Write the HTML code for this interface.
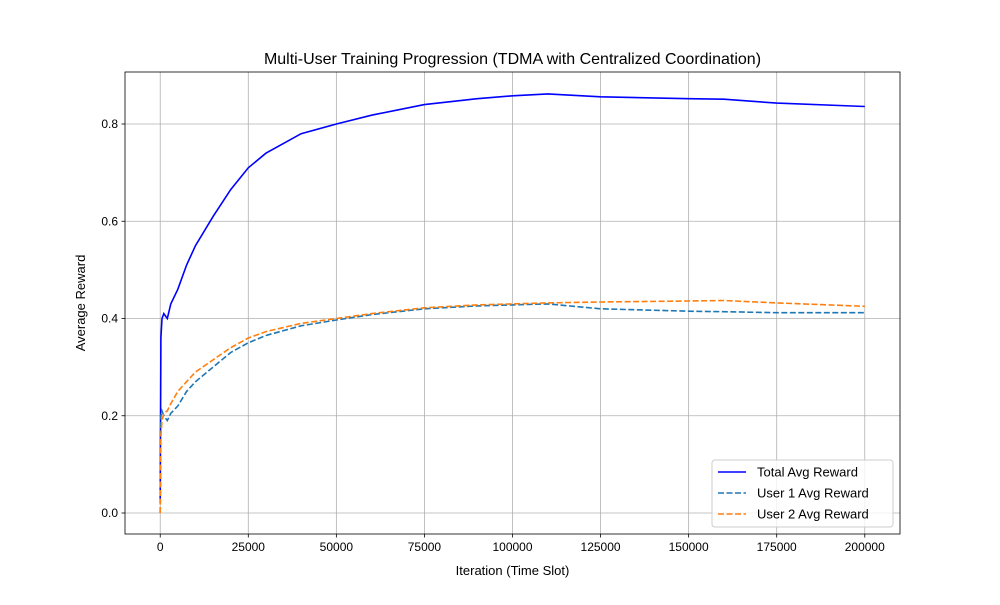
<!DOCTYPE html>
<html><head><meta charset="utf-8">
<style>body{margin:0;background:#fff;font-family:"Liberation Sans","DejaVu Sans",sans-serif}</style>
</head><body>
<svg id="chart" width="1000" height="600" xmlns="http://www.w3.org/2000/svg"></svg>
<script>
const iterations = [0, 200, 500, 1000, 2000, 3000, 5000, 7500, 10000, 15000, 20000, 25000, 30000, 40000, 50000, 60000, 75000, 90000, 100000, 110000, 125000, 150000, 160000, 175000, 200000];
const totalReward = [0.02, 0.36, 0.40, 0.41, 0.40, 0.43, 0.46, 0.51, 0.55, 0.61, 0.665, 0.71, 0.74, 0.78, 0.80, 0.818, 0.84, 0.852, 0.858, 0.862, 0.856, 0.852, 0.851, 0.843, 0.836];
const user1Reward = [0.0, 0.20, 0.21, 0.20, 0.19, 0.205, 0.22, 0.25, 0.27, 0.30, 0.33, 0.35, 0.365, 0.385, 0.397, 0.408, 0.42, 0.426, 0.428, 0.43, 0.42, 0.415, 0.414, 0.412, 0.412];
const user2Reward = [0.0, 0.16, 0.19, 0.205, 0.21, 0.225, 0.25, 0.27, 0.29, 0.315, 0.34, 0.36, 0.373, 0.39, 0.40, 0.41, 0.422, 0.428, 0.43, 0.432, 0.434, 0.436, 0.437, 0.432, 0.425];
const xTicks = [0, 25000, 50000, 75000, 100000, 125000, 150000, 175000, 200000];
const yTicks = [0.0, 0.2, 0.4, 0.6, 0.8];

const L=125,R=900,T=72,B=534;
const xs=v=>L+(v+10000)/220000*(R-L);
const ys=v=>513-(v/0.8)*(513-124);
const NS="http://www.w3.org/2000/svg";
const svg=document.getElementById('chart');
function mk(tag,attrs,parent){const e=document.createElementNS(NS,tag);for(const k in attrs)e.setAttribute(k,attrs[k]);(parent||svg).appendChild(e);return e;}

const grid=mk('g',{});


xTicks.forEach(t=>{
  const x=xs(t);
  mk('line',{x1:x,x2:x,y1:T,y2:B,stroke:'#b0b0b0','stroke-width':0.8},grid);
  mk('line',{x1:x,x2:x,y1:B,y2:B+3.5,stroke:'#000','stroke-width':0.8});
  const tx=mk('text',{x:x,y:B+17,'text-anchor':'middle','font-size':12,fill:'#000'});
  tx.textContent=t;
  
  
});
yTicks.forEach(t=>{
  const y=ys(t);
  mk('line',{x1:L,x2:R,y1:y,y2:y,stroke:'#b0b0b0','stroke-width':0.8},grid);
  mk('line',{x1:L-3.5,x2:L,y1:y,y2:y,stroke:'#000','stroke-width':0.8});
  const tx=mk('text',{x:L-7,y:y+4,'text-anchor':'end','font-size':12,fill:'#000'});
  tx.textContent=t.toFixed(1);
  
  
});

function line(arr,color,dash,name){
  const d=arr.map((v,i)=>(i?'L':'M')+xs(iterations[i]).toFixed(1)+','+ys(v).toFixed(1)).join('');
  const p=mk('path',{d:d,fill:'none',stroke:color,'stroke-width':1.6});
  if(dash)p.setAttribute('stroke-dasharray',dash);
  
  
}
line(totalReward,'#0000ff',null,'total-avg-reward-line');
line(user1Reward,'#1f77b4','6,2.5','user1-avg-reward-line');
line(user2Reward,'#ff7f0e','6,2.5','user2-avg-reward-line');

const frame=mk('rect',{x:L,y:T,width:R-L,height:B-T,fill:'none',stroke:'#000','stroke-width':0.8});



const title=mk('text',{x:(L+R)/2,y:64,'text-anchor':'middle','font-size':16,fill:'#000'});
title.textContent='Multi-User Training Progression (TDMA with Centralized Coordination)';


const xl=mk('text',{x:(L+R)/2,y:575,'text-anchor':'middle','font-size':13,fill:'#000'});
xl.textContent='Iteration (Time Slot)';


const yl=mk('text',{x:85,y:(T+B)/2,'text-anchor':'middle','font-size':13,fill:'#000',transform:'rotate(-90 85 '+(T+B)/2+')'});
yl.textContent='Average Reward';



const lg=mk('g',{});


mk('rect',{x:712,y:460,width:181,height:67,rx:3,fill:'#fff','fill-opacity':0.8,stroke:'#ccc'},lg);
[['Total Avg Reward','#0000ff',null],['User 1 Avg Reward','#1f77b4','6,2.5'],['User 2 Avg Reward','#ff7f0e','6,2.5']].forEach((e,i)=>{
  const y=472+i*21;
  const l=mk('line',{x1:718,x2:746,y1:y,y2:y,stroke:e[1],'stroke-width':1.6},lg);
  if(e[2])l.setAttribute('stroke-dasharray',e[2]);
  const t=mk('text',{x:757,y:y+4.5,'font-size':13,fill:'#000'},lg);
  t.textContent=e[0];
  
  
});
</script>
</body></html>
